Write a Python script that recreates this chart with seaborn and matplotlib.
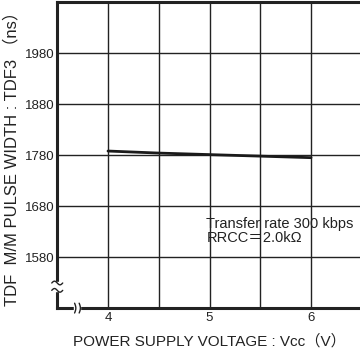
import matplotlib
matplotlib.use("Agg")
import matplotlib.pyplot as plt
import seaborn as sns
import pandas as pd
import numpy as np

voltage = [4.0, 4.5, 5.0, 5.5, 6.0]
tdf3 = [1788, 1784, 1781, 1778, 1775]
x_ticks = [4, 5, 6]
y_ticks = [1580, 1680, 1780, 1880, 1980]

sns.set_theme(style="white")
plt.rcParams['font.family'] = ['Liberation Sans', 'Noto Sans CJK JP', 'DejaVu Sans']

fig = plt.figure(figsize=(3.6, 3.57), dpi=100)
ax = fig.add_axes([0.159, 0.137, 0.846, 0.857])

df = pd.DataFrame({"v": voltage, "t": tdf3})
sns.lineplot(data=df, x="v", y="t", ax=ax, color="#1a1a1a", linewidth=2.0)

ax.set_xlim(3.5, 6.5)
ax.set_ylim(1480, 2080)
ax.set_xticks(x_ticks)
ax.set_yticks(y_ticks)
ax.set_xticks(np.arange(4.0, 6.51, 0.5), minor=True)
ax.grid(True, which="both", color="#222222", linewidth=1.0)
ax.tick_params(axis="both", which="both", length=0, labelsize=9.5, colors="#222222")
ax.tick_params(axis="x", pad=3)
ax.tick_params(axis="y", pad=2)
for s in ax.spines.values():
    s.set_visible(True)
    s.set_color("#222222")
    s.set_linewidth(2.2)

ax.set_xlabel("POWER SUPPLY VOLTAGE : Vcc（V）", fontsize=11, color="#222222", labelpad=7)
ax.set_ylabel("TDF  M/M PULSE WIDTH : TDF3 （ns）", fontsize=12, color="#222222", labelpad=4)

ax.text(4.97, 1637, "Transfer rate 300 kbps", fontsize=10.5, color="#222222")
ax.text(4.97, 1609, "RRCC＝2.0kΩ", fontsize=10.5, color="#222222")

# axis break marks
tr = ax.transAxes
ax.add_patch(plt.Rectangle((-0.02, 0.055), 0.04, 0.03, transform=tr, color="white", clip_on=False, zorder=5))
t = np.linspace(0, 1, 30)
for dy in (0.058, 0.082):
    ax.plot(-0.018 + 0.036 * t, dy + 0.006 * np.sin(2 * np.pi * t), transform=tr, color="#222222", lw=1, clip_on=False, zorder=6)
ax.add_patch(plt.Rectangle((0.055, -0.015), 0.02, 0.03, transform=tr, color="white", clip_on=False, zorder=5))
for dx in (0.057, 0.072):
    ax.plot(dx + 0.004 * np.sin(np.pi * t), -0.016 + 0.032 * t, transform=tr, color="#222222", lw=1, clip_on=False, zorder=6)

fig.savefig("out.png", dpi=100)
